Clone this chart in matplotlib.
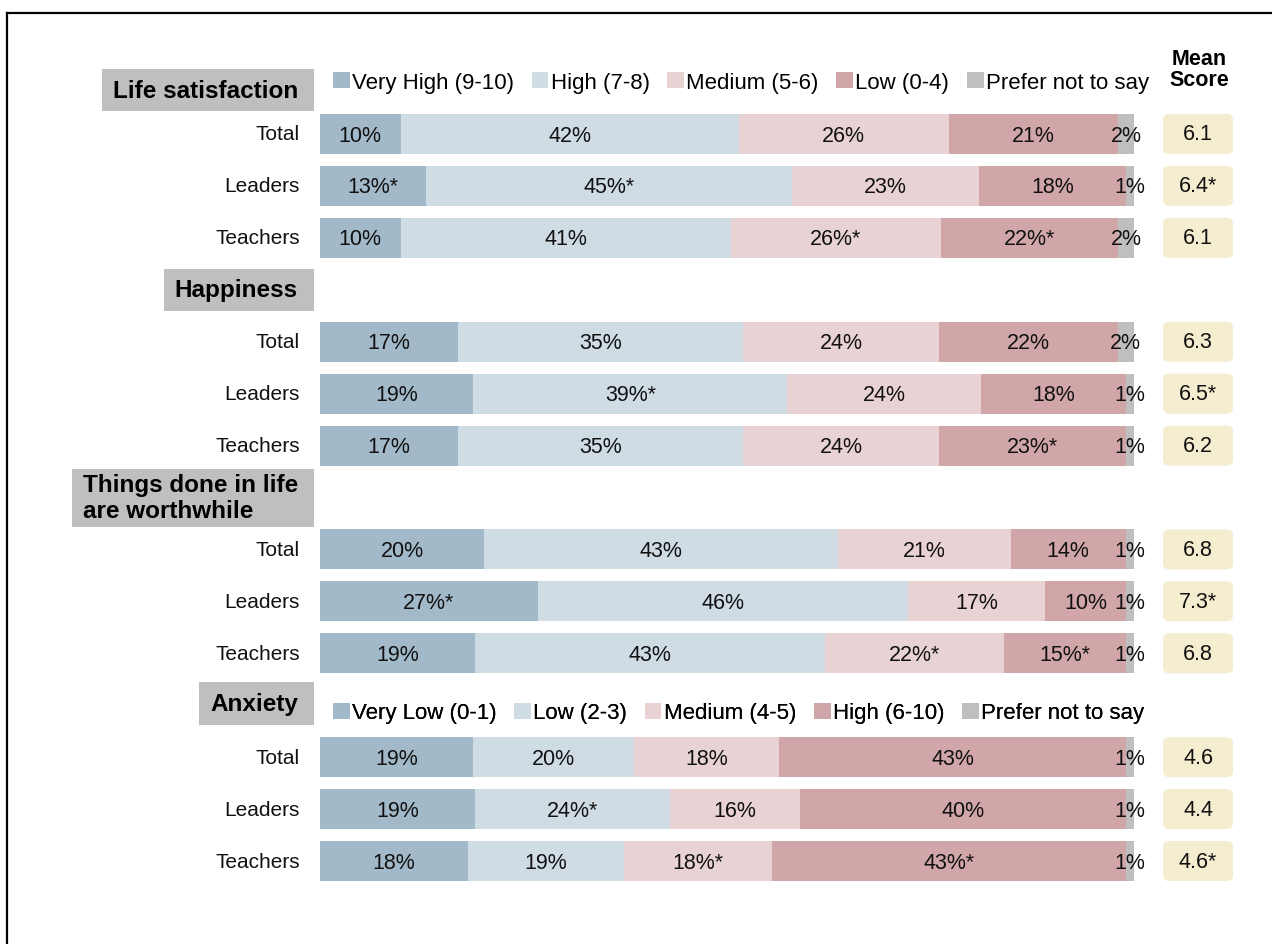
import matplotlib
matplotlib.use("Agg")
import matplotlib.pyplot as plt
from matplotlib.patches import Rectangle, FancyBboxPatch, Patch

plt.rcParams["font.family"] = ["Liberation Sans", "DejaVu Sans"]

# ---- data -------------------------------------------------------------
groups = ["Total", "Leaders", "Teachers"]
measures = ["Life satisfaction", "Happiness",
            "Things done in life\nare worthwhile", "Anxiety"]

wellbeing_cats = ["Very High (9-10)", "High (7-8)", "Medium (5-6)",
                  "Low (0-4)", "Prefer not to say"]
anxiety_cats = ["Very Low (0-1)", "Low (2-3)", "Medium (4-5)",
                "High (6-10)", "Prefer not to say"]

life_sat = [[10, 42, 26, 21, 2], [13, 45, 23, 18, 1], [10, 41, 26, 22, 2]]
life_sat_sig = [[0, 0, 0, 0, 0], [1, 1, 0, 0, 0], [0, 0, 1, 1, 0]]
happiness = [[17, 35, 24, 22, 2], [19, 39, 24, 18, 1], [17, 35, 24, 23, 1]]
happiness_sig = [[0, 0, 0, 0, 0], [0, 1, 0, 0, 0], [0, 0, 0, 1, 0]]
worthwhile = [[20, 43, 21, 14, 1], [27, 46, 17, 10, 1], [19, 43, 22, 15, 1]]
worthwhile_sig = [[0, 0, 0, 0, 0], [1, 0, 0, 0, 0], [0, 0, 1, 1, 0]]
anxiety = [[19, 20, 18, 43, 1], [19, 24, 16, 40, 1], [18, 19, 18, 43, 1]]
anxiety_sig = [[0, 0, 0, 0, 0], [0, 1, 0, 0, 0], [0, 0, 1, 1, 0]]

mean_scores = [[6.1, 6.4, 6.1], [6.3, 6.5, 6.2], [6.8, 7.3, 6.8], [4.6, 4.4, 4.6]]
mean_sig = [[0, 1, 0], [0, 1, 0], [0, 1, 0], [0, 0, 1]]

COLORS = ["#a2b9c9", "#cfdce4", "#e8d2d4", "#d1a6a8", "#bfbfbf"]
MEAN_BG = "#f4edcf"
HEAD_BG = "#bfbfbf"

# ---- layout (pixel based, y axis in pixels, x axis in percent) --------
W, H = 1272, 945
X0, PX = 320, 8.14          # bar start pixel, pixels per percent
def px(x):
    return (x - X0) / PX

fig = plt.figure(figsize=(W / 100, H / 100), dpi=100)
ax = fig.add_axes([0, 0, 1, 1])
ax.set_xlim(px(0), px(W))
ax.set_ylim(H, 0)
ax.axis("off")

ROW0, PITCH, BAR_H = 135, 51.93, 40
def row_y(slot):
    return ROW0 + PITCH * slot

# outer frame (only top and left edges are in view)
ax.plot([px(7), px(W)], [13.5, 13.5], color="black", lw=1.6, clip_on=False)
ax.plot([px(7), px(7)], [13.5, H], color="black", lw=1.6, clip_on=False)

renderer = fig.canvas.get_renderer()

def header(text, yc, h):
    t = ax.text(px(298), yc, text, ha="right", va="center", ma="left",
                fontsize=17.5, fontweight="bold", linespacing=1.15, zorder=3)
    bb = t.get_window_extent(renderer=renderer)
    left = ax.transData.inverted().transform((bb.x0, 0))[0] - 11 / PX
    ax.add_patch(Rectangle((left, yc - h / 2), px(314) - left, h,
                           facecolor=HEAD_BG, edgecolor="none", zorder=2))

def legend(cats, yc):
    handles = [Patch(facecolor=c, edgecolor="none") for c in COLORS]
    lg = ax.legend(handles, cats, loc="center left",
                   bbox_to_anchor=(px(333), yc), bbox_transform=ax.transData,
                   ncol=5, frameon=False, handlelength=0.75, handleheight=0.75,
                   handletextpad=0.1, columnspacing=0.8, borderpad=0,
                   borderaxespad=0, fontsize=16)
    ax.add_artist(lg)

datasets = [life_sat, happiness, worthwhile, anxiety]
sigsets = [life_sat_sig, happiness_sig, worthwhile_sig, anxiety_sig]
header_y = [91, row_y(3), row_y(7), row_y(11) - 2]
header_h = [42, 42, 58, 43]

for m, name in enumerate(measures):
    header(name, header_y[m], header_h[m])
    for g, grp in enumerate(groups):
        y = row_y(m * 4 + g)
        vals = datasets[m][g]
        tot = sum(vals)
        left = 0
        for k, v in enumerate(vals):
            w = v / tot * 100
            ax.barh(y, w, left=left, height=BAR_H, color=COLORS[k],
                    linewidth=0, zorder=1)
            lab = f"{v}%" + ("*" if sigsets[m][g][k] else "")
            ax.text(left + w / 2, y + 1, lab, ha="center", va="center",
                    fontsize=15.5, color="#111111", zorder=3)
            left += w
        ax.text(px(300), y, grp, ha="right", va="center", fontsize=15,
                color="#111111")
        # mean score box
        ax.add_patch(FancyBboxPatch((px(1163), y - 20), 70 / PX, 40,
                                    boxstyle="round,pad=0,rounding_size=0.75",
                                    mutation_aspect=PX, facecolor=MEAN_BG,
                                    edgecolor="none", zorder=1))
        ms = f"{mean_scores[m][g]:.1f}" + ("*" if mean_sig[m][g] else "")
        ax.text(px(1198), y, ms, ha="center", va="center", fontsize=15.5,
                color="#111111", zorder=3)

legend(wellbeing_cats, 83)
legend(anxiety_cats, 714)

ax.text(px(1199), 70, "Mean\nScore", ha="center", va="center",
        fontsize=15.5, fontweight="bold", linespacing=1.05)

fig.savefig("out.png", dpi=100, facecolor="white")
